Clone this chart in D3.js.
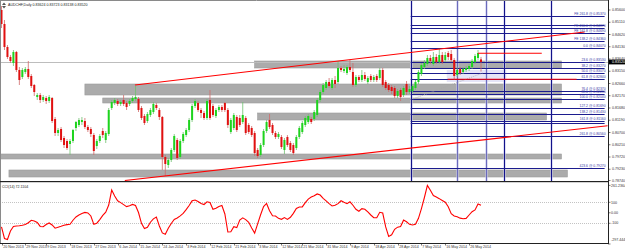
<!DOCTYPE html>
<html>
<head>
<meta charset="utf-8">
<script src="https://cdn.jsdelivr.net/npm/d3@7/dist/d3.min.js"></script>
<style>
  body { margin: 0; background: #fff; }
  svg { display: block; font-family: "Liberation Sans", Arial, sans-serif; }
</style>
</head>
<body>
<svg id="chart" width="625" height="249"></svg>
<script>
// ==========================================
// DATA - AUDCHF daily bars
// ==========================================
const opens = [0.8560,0.8504,0.8412,0.8372,0.8348,0.8392,0.8320,0.8292,0.8312,0.8324,0.8296,0.8260,0.8212,0.8220,0.8200,0.8208,0.8196,0.8208,0.8124,0.8068,
  0.8084,0.8048,0.8036,0.8024,0.8036,0.8088,0.8100,0.8112,0.8116,0.8092,0.8084,0.8060,0.8016,0.8036,0.8076,0.8040,0.8064,0.8168,0.8188,0.8196,
  0.8184,0.8200,0.8188,0.8184,0.8196,0.8204,0.8204,0.8168,0.8136,0.8116,0.8140,0.8152,0.8180,0.8160,0.8132,0.7972,0.7940,0.7960,0.8000,0.8040,
  0.7972,0.8036,0.8060,0.8080,0.8120,0.8176,0.8188,0.8160,0.8148,0.8128,0.8200,0.8176,0.8136,0.8160,0.8172,0.8188,0.8160,0.8072,0.8088,0.8132,
  0.8128,0.8112,0.8128,0.8100,0.8088,0.8068,0.8000,0.7980,0.8020,0.8076,0.8120,0.8100,0.8068,0.8052,0.8052,0.8000,0.8052,0.8028,0.8020,0.8008,
  0.8052,0.8072,0.8100,0.8112,0.8124,0.8124,0.8140,0.8200,0.8232,0.8248,0.8272,0.8248,0.8280,0.8272,0.8328,0.8316,0.8308,0.8332,0.8312,0.8260,
  0.8292,0.8280,0.8300,0.8272,0.8296,0.8280,0.8296,0.8288,0.8320,0.8272,0.8260,0.8252,0.8248,0.8216,0.8240,0.8220,0.8264,0.8232,0.8236,0.8248,
  0.8272,0.8304,0.8332,0.8344,0.8368,0.8344,0.8372,0.8352,0.8380,0.8360,0.8388,0.8384,0.8360,0.8300,0.8324,0.8312,0.8320,0.8324,0.8332,0.8352,
  0.8368,0.83624];
const highs = [0.8576,0.8520,0.8420,0.8380,0.8400,0.8396,0.8332,0.8328,0.8332,0.8356,0.8304,0.8264,0.8228,0.8228,0.8220,0.8216,0.8220,0.8212,0.8132,0.8088,
  0.8092,0.8056,0.8044,0.8044,0.8084,0.8116,0.8128,0.8132,0.8128,0.8100,0.8092,0.8068,0.8044,0.8064,0.8088,0.8076,0.8168,0.8200,0.8208,0.8204,
  0.8200,0.8220,0.8196,0.8204,0.8216,0.8256,0.8212,0.8176,0.8144,0.8152,0.8168,0.8192,0.8188,0.8168,0.8136,0.7980,0.7968,0.8008,0.8064,0.8048,
  0.8044,0.8072,0.8088,0.8128,0.8184,0.8204,0.8196,0.8168,0.8156,0.8204,0.8240,0.8184,0.8168,0.8180,0.8180,0.8192,0.8168,0.8128,0.8148,0.8140,
  0.8140,0.8192,0.8136,0.8108,0.8096,0.8076,0.8008,0.8028,0.8084,0.8120,0.8144,0.8108,0.8076,0.8072,0.8060,0.8048,0.8060,0.8036,0.8028,0.8060,
  0.8096,0.8116,0.8136,0.8144,0.8132,0.8160,0.8208,0.8240,0.8268,0.8280,0.8288,0.8288,0.8296,0.8356,0.8336,0.8340,0.8340,0.8360,0.8348,0.8300,
  0.8300,0.8320,0.8312,0.8296,0.8304,0.8300,0.8304,0.8328,0.8328,0.8280,0.8268,0.8260,0.8256,0.8244,0.8248,0.8256,0.8276,0.8256,0.8264,0.8280,
  0.8320,0.8348,0.8360,0.8380,0.8380,0.8392,0.8384,0.8404,0.8392,0.8392,0.8396,0.8400,0.8368,0.8332,0.8332,0.8332,0.8336,0.8344,0.8364,0.8384,
  0.8400,0.83723];
const lows = [0.8488,0.8400,0.8364,0.8348,0.8336,0.8312,0.8260,0.8284,0.8304,0.8284,0.8248,0.8216,0.8200,0.8188,0.8192,0.8184,0.8188,0.8108,0.8056,0.8056,
  0.8032,0.8008,0.8000,0.7980,0.8028,0.8076,0.8092,0.8100,0.8084,0.8072,0.8052,0.7980,0.8004,0.8028,0.8048,0.8028,0.8056,0.8160,0.8180,0.8176,
  0.8176,0.8176,0.8160,0.8176,0.8188,0.8196,0.8152,0.8120,0.8100,0.8108,0.8132,0.8144,0.8160,0.8120,0.7920,0.7896,0.7928,0.7952,0.7992,0.7960,
  0.7964,0.8028,0.8052,0.8072,0.8112,0.8168,0.8152,0.8128,0.8120,0.8120,0.8120,0.8132,0.8128,0.8152,0.8152,0.8152,0.8088,0.8064,0.8080,0.8072,
  0.8092,0.8104,0.8060,0.8064,0.8052,0.7976,0.7968,0.7972,0.8012,0.8068,0.8084,0.8060,0.8044,0.8044,0.8004,0.7984,0.8012,0.7992,0.7980,0.8000,
  0.8044,0.8064,0.8092,0.8104,0.8104,0.8116,0.8132,0.8192,0.8224,0.8240,0.8248,0.8240,0.8248,0.8264,0.8312,0.8308,0.8300,0.8312,0.8252,0.8252,
  0.8272,0.8272,0.8276,0.8264,0.8272,0.8272,0.8272,0.8280,0.8252,0.8240,0.8232,0.8224,0.8208,0.8208,0.8196,0.8212,0.8220,0.8224,0.8228,0.8240,
  0.8264,0.8296,0.8324,0.8336,0.8344,0.8336,0.8344,0.8344,0.8344,0.8352,0.8360,0.8352,0.8280,0.8292,0.8300,0.8304,0.8312,0.8316,0.8324,0.8344,
  0.8360,0.83138];
const closes = [0.8504,0.8412,0.8372,0.8356,0.8392,0.8320,0.8280,0.8320,0.8324,0.8292,0.8256,0.8232,0.8220,0.8200,0.8212,0.8196,0.8212,0.8116,0.8068,0.8080,
  0.8040,0.8020,0.8008,0.8036,0.8080,0.8112,0.8120,0.8120,0.8092,0.8080,0.8064,0.7996,0.8036,0.8056,0.8060,0.8068,0.8160,0.8192,0.8200,0.8184,
  0.8192,0.8184,0.8172,0.8196,0.8208,0.8212,0.8160,0.8128,0.8108,0.8144,0.8160,0.8184,0.8168,0.8132,0.7972,0.7944,0.7960,0.8000,0.8056,0.7968,
  0.8036,0.8064,0.8080,0.8120,0.8176,0.8196,0.8160,0.8148,0.8128,0.8196,0.8128,0.8140,0.8160,0.8172,0.8160,0.8160,0.8100,0.8120,0.8140,0.8080,
  0.8100,0.8140,0.8068,0.8072,0.8060,0.7988,0.7976,0.8020,0.8076,0.8112,0.8092,0.8068,0.8052,0.8064,0.8012,0.8040,0.8020,0.8000,0.7988,0.8052,
  0.8088,0.8108,0.8128,0.8136,0.8112,0.8152,0.8200,0.8232,0.8260,0.8272,0.8256,0.8280,0.8264,0.8328,0.8320,0.8324,0.8332,0.8320,0.8260,0.8292,
  0.8280,0.8300,0.8284,0.8288,0.8280,0.8292,0.8280,0.8320,0.8260,0.8248,0.8240,0.8236,0.8216,0.8236,0.8212,0.8248,0.8232,0.8244,0.8256,0.8272,
  0.8312,0.8340,0.8348,0.8368,0.8356,0.8372,0.8352,0.8380,0.8352,0.8380,0.8372,0.8360,0.8296,0.8320,0.8308,0.8324,0.8328,0.8336,0.8356,0.8376,
  0.8388,0.83520];

// CCI(14), one value per bar
const cci = [-135,-245,-255,-173,-130,-126,-123,-118,-112,-95,-71,-78,-92,-130,-133,-111,-97,-116,-147,-138,
  -129,-119,-113,-110,-71,-40,-21,-7,4,-1,-30,-110,-99,-65,-25,6,74,217,160,115,
  97,78,59,68,80,70,3,-100,-150,-139,-90,-58,-40,-126,-192,-204,-148,-102,-64,-50,
  -29,-6,30,70,114,122,107,88,79,105,98,33,43,60,70,-11,-183,-180,-133,-141,
  -69,-48,-65,-90,-145,-194,-106,-19,60,89,19,-28,-30,-53,-62,-46,-63,-43,-5,42,
  55,56,97,131,150,162,180,169,138,114,87,65,71,87,115,100,87,105,72,34,
  15,40,34,8,-21,-47,-47,5,-2,-135,-226,-210,-157,-137,-130,-70,-86,-110,-116,-109,
  -53,40,146,261.24,215,164,150,135,118,101,57,-8,-30,-38,-51,-57,-53,-21,11,27,
  84,72.11];

// axis labels
const priceTicks = [0.85600,0.85110,0.84620,0.84130,0.83640,0.83150,0.82660,0.82170,0.81680,0.81190,0.80700,0.80210,0.79720,0.79230,0.78740];
const cciTicks = [261.2364, 100, 0, -100, -297.444];
const cciTickLabels = ["261.2364", "100", "0.00", "-100", "-297.444"];
const dateBars = [0,8,15,23,31,39,46,54,62,70,78,86,94,101,109,117,125,133,141,149,157];
const dateLabels = ["20 Nov 2013","29 Nov 2013","9 Dec 2013","18 Dec 2013","27 Dec 2013","6 Jan 2014","15 Jan 2014",
  "24 Jan 2014","3 Feb 2014","12 Feb 2014","21 Feb 2014","3 Mar 2014","12 Mar 2014","21 Mar 2014","31 Mar 2014",
  "9 Apr 2014","18 Apr 2014","28 Apr 2014","7 May 2014","16 May 2014","26 May 2014"];

// drawn objects: grey S/R zones (bar from/to, price high/low)
const zoneFrom = [28, 34, 85, 86, -0.5, 2.5];
const zoneTo = [188, 188, 188, 183, 188, 190];
const zoneHigh = [0.8264, 0.8208, 0.8356, 0.8148, 0.7984, 0.7920];
const zoneLow = [0.8220, 0.8188, 0.8328, 0.8120, 0.7964, 0.7892];

// red trend lines [bar, price]
const trendUpper = [[44.8, 0.8260], [195.8, 0.8472]];
const trendLower = [[41.4, 0.7878], [203.5, 0.8097]];
const redLevelPrice = [0.8387, 0.8283];
const redLevelFrom = [160, 149.8];
const redLevelTo = [181.4, 193.1];

// blue vertical time markers
const markerBars = [137.4, 152.9, 162.6, 168.6, 184.4];
const markerDark = [true, false, false, true, true];

// fibonacci levels
const fibNames = ["FE 261.8","","FE 200.0","FE 161.8","FE 138.2","0.0","23.6","38.2","50.0","61.8","76.4","88.6","100.0","127.2","138.2","161.8","","261.8","423.6"];
const fibPrices = [0.8537,0.8500,0.8487,0.8469,0.8436,0.8407,0.8353,0.8327,0.8307,0.8284,0.8237,0.8223,0.8204,0.8169,0.8143,0.8116,0.8107,0.8056,0.7927];
const fibFrom = 137.4, fibTo = 202.5;
const fibTrend = [[138.1, 0.8204], [161.6, 0.8308]];
const fibShade = [149.5, 169.5, 0.8320, 0.8272]; // selected-object tint: bar from/to, price high/low

const lastPrice = 0.83520;

// ==========================================
// LAYOUT / SCALES
// ==========================================
const svg = d3.select("#chart");
const plotRight = 608;
const mainBottom = 181;
const cciTop = 182, cciBottom = 243;
const FS = 3.6;

const x = d3.scaleLinear().domain([0, closes.length - 1]).range([1.5, 481]);
const y = d3.scaleLinear().domain([0.7876, 0.86]).range([mainBottom, 0]);
const yc = d3.scaleLinear().domain([-297.444, 261.2364]).range([244, 185.4]);

const defs = svg.append("defs");
defs.append("clipPath").attr("id", "clipMain")
  .append("rect").attr("x", 0).attr("y", 0).attr("width", plotRight).attr("height", mainBottom);
defs.append("clipPath").attr("id", "clipCci")
  .append("rect").attr("x", 0).attr("y", cciTop).attr("width", plotRight).attr("height", cciBottom - cciTop);

const main = svg.append("g").attr("clip-path", "url(#clipMain)");

// grey zones
main.selectAll(".zone").data(zoneFrom).enter().append("rect")
  .attr("class", "zone")
  .attr("x", (d, i) => x(d))
  .attr("width", (d, i) => x(zoneTo[i]) - x(d))
  .attr("y", (d, i) => y(zoneHigh[i]))
  .attr("height", (d, i) => y(zoneLow[i]) - y(zoneHigh[i]))
  .attr("fill", "#ababab").attr("stroke", "#9b9b9b").attr("stroke-width", 0.6);

// light tint of the selected fibo
main.append("rect")
  .attr("x", x(fibShade[0])).attr("width", x(fibShade[1]) - x(fibShade[0]))
  .attr("y", y(fibShade[2])).attr("height", y(fibShade[3]) - y(fibShade[2]))
  .attr("fill", "#dedef5").attr("opacity", 0.8);

// bid line
main.append("line")
  .attr("x1", 0).attr("x2", plotRight)
  .attr("y1", Math.round(y(lastPrice)) + 0.5).attr("y2", Math.round(y(lastPrice)) + 0.5)
  .attr("stroke", "#bdbdbd").attr("stroke-width", 1);

// vertical markers
markerBars.forEach((b, i) => {
  const px = Math.round(x(b)) + 0.5;
  main.append("rect").attr("x", px - 1.5).attr("y", 0).attr("width", 3).attr("height", mainBottom)
    .attr("fill", "#c4c4ea").attr("opacity", 0.55);
  main.append("line").attr("x1", px).attr("x2", px).attr("y1", 0).attr("y2", mainBottom)
    .attr("stroke", markerDark[i] ? "#12128a" : "#6b6bbd").attr("stroke-width", 1);
});

// fibonacci lines
main.selectAll(".fib").data(fibPrices).enter().append("line")
  .attr("class", "fib")
  .attr("x1", x(fibFrom)).attr("x2", x(fibTo))
  .attr("y1", d => Math.round(y(d)) + 0.5).attr("y2", d => Math.round(y(d)) + 0.5)
  .attr("stroke", "#1c1c8e").attr("stroke-width", 1);

main.append("line")
  .attr("x1", x(fibTrend[0][0])).attr("y1", y(fibTrend[0][1]))
  .attr("x2", x(fibTrend[1][0])).attr("y2", y(fibTrend[1][1]))
  .attr("stroke", "#a8a8a8").attr("stroke-width", 0.8).attr("stroke-dasharray", "1,1");

// candles
const candles = main.selectAll(".candle").data(closes).enter().append("g").attr("class", "candle");
candles.append("line")
  .attr("x1", (d, i) => x(i)).attr("x2", (d, i) => x(i))
  .attr("y1", (d, i) => y(highs[i])).attr("y2", (d, i) => y(lows[i]))
  .attr("stroke", (d, i) => d >= opens[i] ? "#6fc06f" : "#d06a6a")
  .attr("stroke-width", 0.8);
candles.append("rect")
  .attr("x", (d, i) => x(i) - 1)
  .attr("width", 2)
  .attr("y", (d, i) => y(Math.max(d, opens[i])))
  .attr("height", (d, i) => Math.max(0.8, Math.abs(y(d) - y(opens[i]))))
  .attr("fill", (d, i) => d >= opens[i] ? "#1ed41e" : "#e01010");

// red trend lines
[trendUpper, trendLower].forEach(t => {
  main.append("line")
    .attr("x1", x(t[0][0])).attr("y1", y(t[0][1]))
    .attr("x2", x(t[1][0])).attr("y2", y(t[1][1]))
    .attr("stroke", "#ff0000").attr("stroke-width", 1.1);
});
redLevelPrice.forEach((p, i) => {
  main.append("line")
    .attr("x1", x(redLevelFrom[i])).attr("x2", x(redLevelTo[i]))
    .attr("y1", y(p)).attr("y2", y(p))
    .attr("stroke", "#ff0000").attr("stroke-width", 1.1);
});

// fib labels
main.selectAll(".fibLabel").data(fibPrices).enter().append("text")
  .attr("class", "fibLabel")
  .attr("x", x(fibTo) + 1).attr("y", d => Math.round(y(d)) - 0.6)
  .attr("text-anchor", "end")
  .attr("font-size", 3.4).attr("fill", "#3a3aa6")
  .text((d, i) => fibNames[i] ? `${fibNames[i]} @ ${d.toFixed(5)}` : "");

// title
svg.append("path").attr("d", "M2,5 L4,2.5 L6,5 Z M2,6 L4,8.5 L6,6 Z").attr("fill", "#555");
svg.append("text").attr("x", 8).attr("y", 6.3).attr("font-size", FS).attr("fill", "#222")
  .text("AUDCHF,Daily  0.83624 0.83723 0.83138 0.83520");

// ==========================================
// CCI PANEL
// ==========================================
const sub = svg.append("g").attr("clip-path", "url(#clipCci)");
[100, -100].forEach(v => {
  sub.append("line").attr("x1", 0).attr("x2", plotRight)
    .attr("y1", Math.round(yc(v)) + 0.5).attr("y2", Math.round(yc(v)) + 0.5)
    .attr("stroke", "#b4b4b4").attr("stroke-width", 0.8).attr("stroke-dasharray", "1,1");
});
sub.append("path").datum(cci)
  .attr("d", d3.line().x((d, i) => x(i)).y(d => yc(d)))
  .attr("fill", "none").attr("stroke", "#ff0000").attr("stroke-width", 1.1);

svg.append("text").attr("x", 2).attr("y", 188).attr("font-size", FS).attr("fill", "#222")
  .text("CCI(14) 72.1104");

// ==========================================
// FRAMES AND AXES
// ==========================================
svg.append("line").attr("x1", 0).attr("x2", plotRight).attr("y1", 0.5).attr("y2", 0.5).attr("stroke", "#8a8a8a");
svg.append("line").attr("x1", 0.5).attr("x2", 0.5).attr("y1", 0).attr("y2", cciBottom).attr("stroke", "#8a8a8a");
svg.append("rect").attr("x", 0).attr("y", mainBottom).attr("width", plotRight).attr("height", 1.2).attr("fill", "#222");
svg.append("line").attr("x1", 0).attr("x2", plotRight).attr("y1", cciBottom + 0.5).attr("y2", cciBottom + 0.5).attr("stroke", "#222");
svg.append("line").attr("x1", plotRight + 0.5).attr("x2", plotRight + 0.5).attr("y1", 0).attr("y2", cciBottom + 1).attr("stroke", "#222");

// price axis
const pAxis = svg.append("g");
priceTicks.forEach(p => {
  const py = Math.min(y(p), mainBottom - 0.5);
  pAxis.append("line").attr("x1", plotRight).attr("x2", plotRight + 2.5).attr("y1", py).attr("y2", py).attr("stroke", "#222").attr("stroke-width", 0.6);
  pAxis.append("text").attr("x", plotRight + 4).attr("y", py + 1.2).attr("font-size", FS).attr("fill", "#333")
    .text(p.toFixed(5));
});
// current price box
const ly = y(lastPrice);
pAxis.append("rect").attr("x", plotRight + 1).attr("y", ly - 2.4).attr("width", 16).attr("height", 4.8).attr("fill", "#000");
pAxis.append("text").attr("x", plotRight + 4).attr("y", ly + 1.2).attr("font-size", FS).attr("fill", "#fff")
  .text(lastPrice.toFixed(5));

// cci axis
cciTicks.forEach((v, i) => {
  const cy = yc(v);
  pAxis.append("line").attr("x1", plotRight).attr("x2", plotRight + 2.5).attr("y1", cy).attr("y2", cy).attr("stroke", "#222").attr("stroke-width", 0.6);
  pAxis.append("text").attr("x", plotRight + 3).attr("y", Math.min(cy + 1.2, 241)).attr("font-size", FS).attr("fill", "#333")
    .text(cciTickLabels[i]);
});

// time axis
const tAxis = svg.append("g");
dateBars.forEach((b, i) => {
  const tx = Math.round(x(b)) + 0.5;
  tAxis.append("line").attr("x1", tx).attr("x2", tx).attr("y1", cciBottom).attr("y2", cciBottom + 2.5)
    .attr("stroke", "#222").attr("stroke-width", 0.6);
  tAxis.append("text").attr("x", tx + 0.8).attr("y", 248).attr("font-size", FS).attr("fill", "#333")
    .text(dateLabels[i]);
});
</script>
</body>
</html>
